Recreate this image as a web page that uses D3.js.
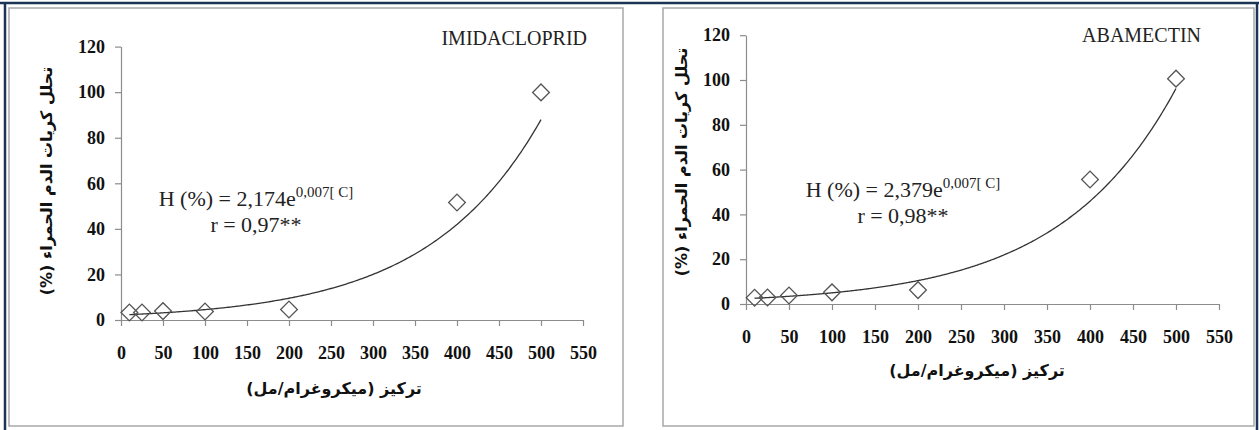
<!DOCTYPE html>
<html>
<head>
<meta charset="utf-8">
<script src="https://cdn.jsdelivr.net/npm/d3@7"></script>
<style>
  html, body { margin: 0; padding: 0; background: #fff; }
  svg { display: block; }
</style>
</head>
<body>
<svg id="chart" width="1259" height="430"></svg>
<script>
// Haemolysis (%) of red blood cells versus concentration (µg/ml)
const concentrations = [10, 25, 50, 100, 200, 400, 500];
const imidaclopridHemolysis = [3.3, 3.3, 3.9, 3.7, 4.6, 51.6, 99.9];
const abamectinHemolysis = [2.8, 2.9, 3.8, 5.2, 6.2, 55.6, 100.6];

const xTickValues = [0, 50, 100, 150, 200, 250, 300, 350, 400, 450, 500, 550];
const yTickValues = [0, 20, 40, 60, 80, 100, 120];

const pesticideNames = ["IMIDACLOPRID", "ABAMECTIN"];
// exponential fit H = a * e^(b * C)
const fitCoefficients = [2.174, 2.379];
const fitRates = [0.0074, 0.0074];
const correlations = [0.97, 0.98];

const xTitle = "تركيز (ميكروغرام/مل)";
const yTitle = "تحلل كريات الدم الحمراء (%)";

const seriesValues = [imidaclopridHemolysis, abamectinHemolysis];

// panel geometry
const layout = [
  { frame: [9, 8, 614, 418], xRange: [121, 583], yRange: [320, 46.6],
    eqX: 256, eqY: 206, nameX: 587, nameY: 45,
    xTitleX: 334, xTitleY: 394, yTitleX: 46, yTitleY: 181 },
  { frame: [663, 8, 591, 418], xRange: [746, 1219], yRange: [304, 35.2],
    eqX: 903, eqY: 197, nameX: 1201, nameY: 42,
    xTitleX: 977, xTitleY: 376, yTitleX: 681, yTitleY: 162 }
];

const commaLocale = d3.formatLocale({ decimal: ",", thousands: ".", grouping: [3], currency: ["", ""] });
const fmt3 = commaLocale.format(".3f");
const fmt2 = commaLocale.format(".2f");

const svg = d3.select("#chart");
const serif = "Liberation Serif, Times New Roman, serif";
const arabic = "DejaVu Sans, sans-serif";

// outer frame
const frame = svg.append("g").attr("stroke", "#1c3555").attr("stroke-width", 2.5);
frame.append("line").attr("x1", 0).attr("x2", 1259).attr("y1", 3).attr("y2", 3);
frame.append("line").attr("x1", 5).attr("x2", 5).attr("y1", 2).attr("y2", 430);
frame.append("line").attr("x1", 1257).attr("x2", 1257).attr("y1", 2).attr("y2", 430);

layout.forEach((L, i) => {
  const g = svg.append("g");
  const [fx, fy, fw, fh] = L.frame;
  g.append("rect").attr("x", fx).attr("y", fy).attr("width", fw).attr("height", fh)
    .attr("fill", "#fff").attr("stroke", "#a8a8a8").attr("stroke-width", 1.5);

  const x = d3.scaleLinear().domain([0, 550]).range(L.xRange);
  const y = d3.scaleLinear().domain([0, 120]).range(L.yRange);

  const xAxis = g.append("g").attr("transform", `translate(0,${y(0)})`)
    .call(d3.axisBottom(x).tickValues(xTickValues).tickSize(6).tickPadding(20).tickSizeOuter(0));
  const yAxis = g.append("g").attr("transform", `translate(${x(0)},0)`)
    .call(d3.axisLeft(y).tickValues(yTickValues).tickSize(6).tickPadding(10).tickSizeOuter(0));

  [xAxis, yAxis].forEach(ax => {
    ax.attr("font-family", serif).attr("font-size", 18).attr("font-weight", "bold");
    ax.select(".domain").attr("stroke", "#8c8c8c").attr("stroke-width", 1.2);
    ax.selectAll(".tick line").attr("stroke", "#8c8c8c").attr("stroke-width", 1.2);
    ax.selectAll(".tick text").attr("fill", "#111");
  });

  // fitted exponential curve
  const a = fitCoefficients[i], b = fitRates[i];
  const cs = d3.range(10, 500.01, 2);
  const line = d3.line().x(c => x(c)).y(c => y(a * Math.exp(b * c))).curve(d3.curveMonotoneX);
  g.append("path").datum(cs).attr("d", line)
    .attr("fill", "none").attr("stroke", "#333").attr("stroke-width", 1.3);

  // observed points as hollow diamonds
  const diamond = d3.symbol().type(d3.symbolSquare).size(140);
  g.selectAll("path.pt").data(concentrations.map((c, k) => [c, seriesValues[i][k]]))
    .join("path").attr("class", "pt")
    .attr("d", diamond)
    .attr("transform", d => `translate(${x(d[0])},${y(d[1])}) rotate(45)`)
    .attr("fill", "none").attr("stroke", "#555").attr("stroke-width", 1.3);

  // pesticide name
  g.append("text").attr("x", L.nameX).attr("y", L.nameY).attr("text-anchor", "end")
    .attr("font-family", serif).attr("font-size", 20).attr("fill", "#222")
    .text(pesticideNames[i]);

  // fit equation and correlation
  const eq = g.append("text").attr("x", L.eqX).attr("y", L.eqY).attr("text-anchor", "middle")
    .attr("font-family", serif).attr("font-size", 22).attr("fill", "#222");
  eq.append("tspan").text(`H (%) = ${fmt3(a)}e`);
  eq.append("tspan").attr("dy", -9).attr("font-size", 15).text(`${fmt3(Math.round(b * 1000) / 1000)}[ C]`);
  g.append("text").attr("x", L.eqX).attr("y", L.eqY + 26).attr("text-anchor", "middle")
    .attr("font-family", serif).attr("font-size", 22).attr("fill", "#222")
    .text(`r = ${fmt2(correlations[i])}**`);

  // axis titles
  g.append("text").attr("x", L.xTitleX).attr("y", L.xTitleY).attr("text-anchor", "middle")
    .attr("direction", "rtl")
    .attr("font-family", arabic).attr("font-weight", "bold").attr("font-size", 16)
    .attr("fill", "#111").text(xTitle);
  g.append("text").attr("transform", `translate(${L.yTitleX},${L.yTitleY}) rotate(-90)`)
    .attr("text-anchor", "middle").attr("dy", "0.35em").attr("direction", "rtl")
    .attr("font-family", arabic).attr("font-weight", "bold").attr("font-size", 16)
    .attr("fill", "#111").text(yTitle);
});
</script>
</body>
</html>
